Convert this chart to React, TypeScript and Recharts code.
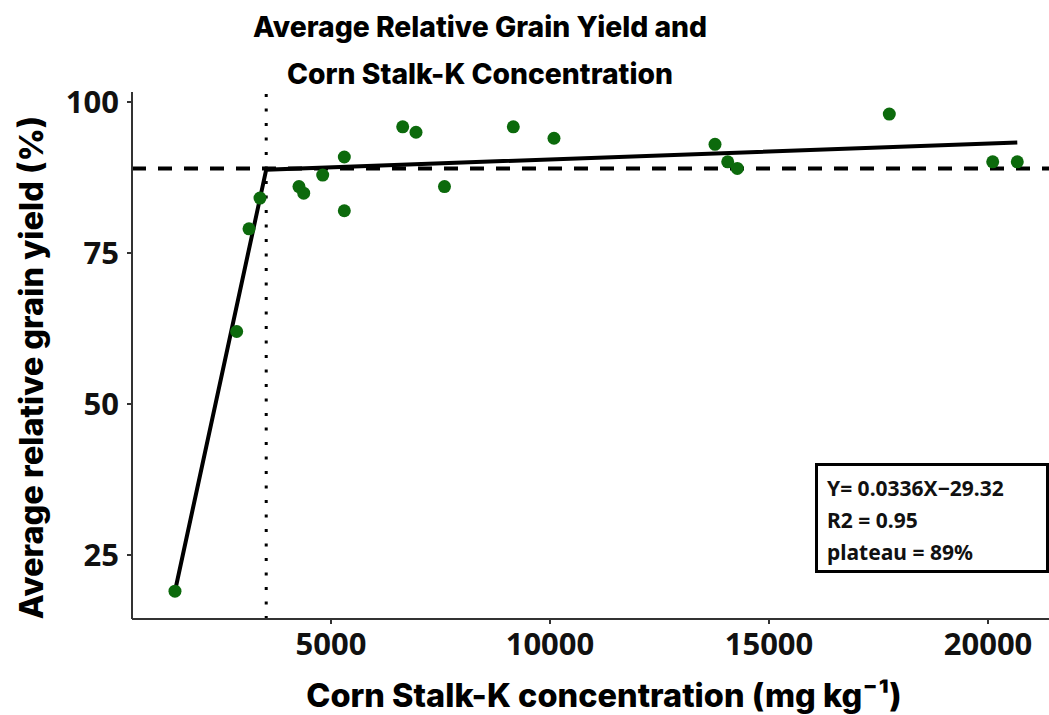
import { ScatterChart, Scatter, XAxis, YAxis, ReferenceLine, Label } from "recharts";

// stalk-K concentration (mg/kg) and average relative yield (%) for each site-year
const stalkK = [
  1438, 2847, 3128, 3379, 4269, 4377, 4811, 5304, 5304, 6637,
  6941, 7591, 9162, 10091, 13767, 14057, 14276, 17746, 20107, 20668,
];
const relYield = [
  19.0, 62.0, 79.0, 84.1, 86.0, 84.9, 87.9, 90.9, 82.0, 95.9,
  95.0, 86.0, 95.9, 94.0, 93.0, 90.1, 89.0, 98.0, 90.1, 90.1,
];

// linear-plateau fit drawn as a polyline
const fitStalkK = [1438, 3521, 20668];
const fitYield = [19.0, 88.8, 93.3];

const criticalK = 3521;
const plateau = 89;

const xTicks = [5000, 10000, 15000, 20000];
const yTicks = [25, 50, 75, 100];

const fitText = ["Y= 0.0336X\u221229.32", "R2 = 0.95", "plateau = 89%"];

const points = stalkK.map((x, i) => ({ x, y: relYield[i] }));
const fitLine = fitStalkK.map((x, i) => ({ x, y: fitYield[i] }));

const headFont = "Inter, 'Open Sans', sans-serif";
const tickFont = "'Noto Sans', 'Open Sans', sans-serif";
const tickStyle = { fontSize: 31, fontWeight: 700, fill: "#111", fontFamily: tickFont };

export default function App() {
  return (
    <div style={{ position: "absolute", left: 0, top: 0, width: 1049, height: 715, background: "#fff" }}>
      <div
        style={{
          position: "absolute",
          left: 180,
          width: 600,
          top: 4,
          textAlign: "center",
          fontFamily: headFont,
          fontWeight: 800,
          fontSize: 28.3,
          lineHeight: "47px",
          color: "#000",
        }}
      >
        Average Relative Grain Yield and
        <br />
        Corn Stalk-K Concentration
      </div>

      <ScatterChart width={1049} height={715} margin={{ top: 92, right: 0, bottom: 0, left: 0 }}>
        <XAxis
          type="number"
          dataKey="x"
          domain={[457, 21392]}
          ticks={xTicks}
          allowDataOverflow
          height={96}
          tick={tickStyle}
          tickSize={5}
          tickMargin={9}
          axisLine={{ stroke: "#333", strokeWidth: 2 }}
          tickLine={{ stroke: "#333", strokeWidth: 2 }}
        >
          <Label
            content={({ viewBox }: any) => (
              <text
                x={604}
                y={viewBox.y + 88}
                textAnchor="middle"
                fontFamily={headFont}
                fontWeight={800}
                fontSize={32.5}
                fill="#000"
              >
                Corn Stalk-K concentration (mg kg⁻¹)
              </text>
            )}
          />
        </XAxis>
        <YAxis
          type="number"
          dataKey="y"
          domain={[14.4, 101.66]}
          ticks={yTicks}
          allowDataOverflow
          width={132}
          tick={tickStyle}
          tickSize={5}
          tickMargin={8}
          axisLine={{ stroke: "#333", strokeWidth: 2 }}
          tickLine={{ stroke: "#333", strokeWidth: 2 }}
        >
          <Label
            content={({ viewBox }: any) => {
              const cx = 31;
              const cy = viewBox.y + viewBox.height / 2 + 12;
              return (
                <text
                  x={cx}
                  y={cy}
                  transform={`rotate(-90, ${cx}, ${cy})`}
                  textAnchor="middle"
                  dominantBaseline="central"
                  fontFamily={headFont}
                  fontWeight={800}
                  fontSize={32.5}
                  fill="#000"
                >
                  Average relative grain yield (%)
                </text>
              );
            }}
          />
        </YAxis>
        <ReferenceLine y={plateau} stroke="#000" strokeWidth={4} strokeDasharray="14 12" />
        <ReferenceLine x={criticalK} stroke="#000" strokeWidth={3} strokeDasharray="3 11.5" />
        <Scatter
          data={fitLine}
          line={{ stroke: "#000", strokeWidth: 4 }}
          shape={() => <g />}
          isAnimationActive={false}
        />
        <Scatter
          data={points}
          fill="#0c6a0c"
          shape={(p: any) => <circle cx={p.cx} cy={p.cy} r={6.5} fill="#0c6a0c" />}
          isAnimationActive={false}
        />
      </ScatterChart>

      <div
        style={{
          position: "absolute",
          left: 815,
          top: 463,
          width: 219,
          height: 98,
          border: "3px solid #000",
          padding: "6px 0 0 9px",
          boxSizing: "content-box",
          fontFamily: tickFont,
          fontWeight: 700,
          fontSize: 21,
          lineHeight: "32px",
          color: "#111",
        }}
      >
        {fitText.map((t) => (
          <div key={t}>{t}</div>
        ))}
      </div>
    </div>
  );
}
